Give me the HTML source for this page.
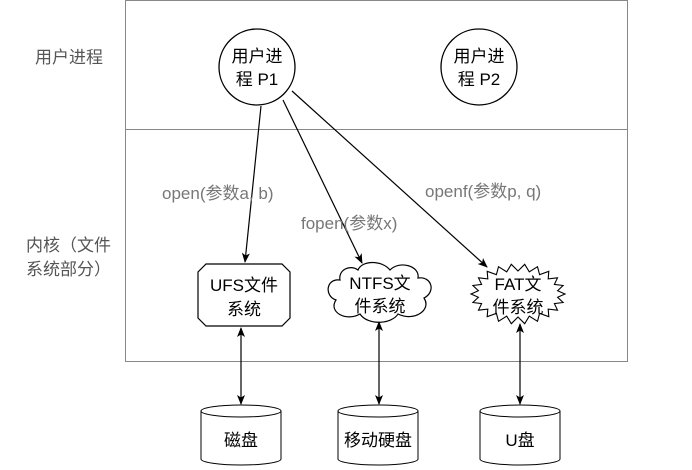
<!DOCTYPE html>
<html><head><meta charset="utf-8"><style>
body{margin:0;background:#fff}
svg{display:block}
text{font-family:"Liberation Sans","Noto Sans CJK SC",sans-serif}
</style></head><body>
<svg width="692" height="470" viewBox="0 0 692 470" xmlns="http://www.w3.org/2000/svg">
<defs><marker id="a" markerWidth="10" markerHeight="10" refX="9" refY="5" orient="auto" markerUnits="userSpaceOnUse"><path d="M0,1 L10,5 L0,9 L2.5,5 z" fill="#000"/></marker>
<marker id="b" markerWidth="10" markerHeight="10" refX="9" refY="5" orient="auto-start-reverse" markerUnits="userSpaceOnUse"><path d="M0,1 L10,5 L0,9 L2.5,5 z" fill="#000"/></marker></defs>
<rect x="125.5" y="0.5" width="502" height="361" fill="none" stroke="#888"/>
<line x1="125" y1="129.5" x2="628" y2="129.5" stroke="#888"/>
<g font-size="17" fill="#555">
<text x="35" y="63">用户进程</text>
<text x="26" y="251">内核（文件</text>
<text x="26" y="275">系统部分）</text>
</g>
<circle cx="257" cy="67" r="38" fill="#fff" stroke="#000" stroke-width="1.3"/>
<circle cx="479" cy="67" r="38" fill="#fff" stroke="#000" stroke-width="1.3"/>
<g font-size="17" fill="#000" text-anchor="middle">
<text x="257" y="62">用户进</text><text x="257" y="85">程 P1</text>
<text x="479" y="62">用户进</text><text x="479" y="85">程 P2</text>
</g>
<g stroke="#000" stroke-width="1.2" fill="none">
<line x1="261" y1="106" x2="245" y2="262" marker-end="url(#a)"/>
<line x1="283" y1="100" x2="362" y2="263" marker-end="url(#a)"/>
<line x1="292" y1="91" x2="487" y2="267" marker-end="url(#a)"/>
<line x1="241" y1="328" x2="241" y2="404" marker-start="url(#b)" marker-end="url(#b)"/>
<line x1="379" y1="322" x2="379" y2="404" marker-start="url(#b)" marker-end="url(#b)"/>
<line x1="520" y1="324" x2="520" y2="404" marker-start="url(#b)" marker-end="url(#b)"/>
</g>
<g font-size="17" fill="#777">
<text x="162" y="199">open(参数a, b)</text>
<text x="301" y="229">fopen(参数x)</text>
<text x="425" y="197">openf(参数p, q)</text>
</g>
<path d="M206,264 H282 L290,272 V318 L282,326 H206 L198,318 V272 Z" fill="#fff" stroke="#000" stroke-width="1.2"/>
<path d="M340,280 C326,278 324,296 336,300 C328,312 346,322 360,314 C368,326 392,324 398,314 C414,322 432,310 424,298 C436,292 432,276 418,278 C420,266 400,260 390,270 C382,260 362,260 358,270 C350,264 338,270 340,280 Z" fill="#fff" stroke="#000" stroke-width="1.2"/>
<polygon id="star" fill="#fff" stroke="#000" stroke-width="1.1" points=""/>
<g font-size="17" fill="#000" text-anchor="middle">
<text x="244" y="291">UFS文件</text><text x="244" y="315">系统</text>
<text x="380" y="289">NTFS文</text><text x="380" y="312">件系统</text>
<text x="518" y="290">FAT文</text><text x="518" y="313">件系统</text>
</g>
<g fill="#fff" stroke="#000" stroke-width="1">
<path d="M201,411 V459 A40,6 0 0 0 281,459 V411"/><ellipse cx="241" cy="411" rx="40" ry="6"/>
<path d="M338,411 V459 A40,6 0 0 0 418,459 V411"/><ellipse cx="378" cy="411" rx="40" ry="6"/>
<path d="M480,411 V459 A40,6 0 0 0 560,459 V411"/><ellipse cx="520" cy="411" rx="40" ry="6"/>
</g>
<g font-size="17" fill="#000" text-anchor="middle">
<text x="241" y="446">磁盘</text><text x="378" y="446">移动硬盘</text><text x="520" y="446">U盘</text>
</g>
</svg>
<script>
var p=[],n=44;for(var i=0;i<n;i++){var t=i/n*2*Math.PI,o=i%2?0:1;var rx=o?47:40,ry=o?30:23;p.push((518+rx*Math.cos(t)).toFixed(1)+","+(294+ry*Math.sin(t)).toFixed(1));}
document.getElementById("star").setAttribute("points",p.join(" "));
</script>
</body></html>
